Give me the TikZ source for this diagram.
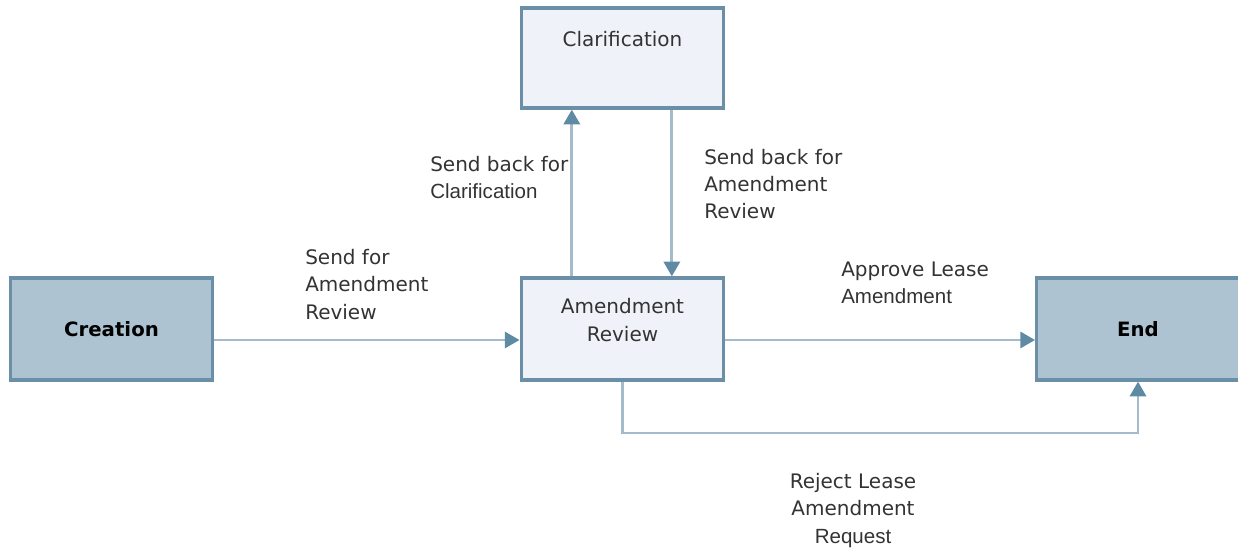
\documentclass[tikz,border=0pt]{standalone}
\usepackage{fontspec}
\setmainfont{DejaVu Sans}
\newfontfamily\altfont{Liberation Sans}
\usetikzlibrary{arrows.meta}
\definecolor{boxdark}{HTML}{ADC3D1}
\definecolor{boxlight}{HTML}{EFF3F9}
\definecolor{boxedge}{HTML}{6B8FA6}
\definecolor{connline}{HTML}{A3BBCA}
\definecolor{tipcol}{HTML}{5F8AA4}
\definecolor{txtcol}{HTML}{333333}

\begin{document}
\begin{tikzpicture}[x=0.75pt,y=-0.75pt,
  box/.style={draw=boxedge, line width=2.4pt, minimum width=152pt, minimum height=76.5pt, inner sep=0pt},
  endbox/.style={box, fill=boxdark, font=\fontsize{14.8}{20}\selectfont\bfseries},
  midbox/.style={box, fill=boxlight},
  boxtxt/.style={text=txtcol, align=center, inner sep=0pt, font=\fontsize{15}{21}\selectfont},
  conn/.style={draw=connline, line width=2.2pt, -{Triangle[width=12pt,length=11pt,fill=tipcol,color=tipcol]}},
  lbl/.style={text=txtcol, align=left, inner sep=0pt, font=\fontsize{15}{20.5}\selectfont}]
  \useasboundingbox (0,0) rectangle (1238,548);
  % boxes
  \node[endbox] (creation) at (111.5,329) {Creation};
  \node[endbox] (end) at (1138,329) {End};
  \node[midbox] (review) at (622.5,329) {};
  \node[boxtxt] (reviewtxt) at (622.5,320) {Amendment\\Review};
  \node[midbox, minimum height=75pt] (clar) at (622.5,58) {};
  \node[boxtxt] (clartxt) at (622.5,39) {Clarification};
  % connectors
  \draw[conn] ([yshift=-8.25pt]creation.east) -- ([yshift=-8.25pt]review.west);
  \draw[conn] ([yshift=-8.25pt]review.east) -- ([yshift=-8.25pt]end.west);
  \draw[conn] ([xshift=-38pt]review.north) -- ([xshift=-38pt]clar.south);
  \draw[conn] ([xshift=37pt]clar.south) -- ([xshift=37pt]review.north);
  \draw[conn] (review.south) |- (622.5,433) -| (end.south);
  % labels
  \node[lbl, anchor=west] (sendfor) at (305,284.5) {Send for\\Amendment\\Review};
  \node[lbl, anchor=west] (backclar) at (430,177.5) {Send back for\\{\altfont\fontsize{15.4}{20.5}\selectfont Clarification}};
  \node[lbl, anchor=west] (backrev) at (704,184) {Send back for\\Amendment\\Review};
  \node[lbl, anchor=west] (approve) at (841,282.5) {Approve Lease\\{\altfont\fontsize{15.4}{20.5}\selectfont Amendment}};
  \node[lbl, align=center] (reject) at (853,510.5) {Reject Lease\\Amendment\\{\altfont\fontsize{15.4}{20.5}\selectfont Request}};
\end{tikzpicture}
\end{document}
